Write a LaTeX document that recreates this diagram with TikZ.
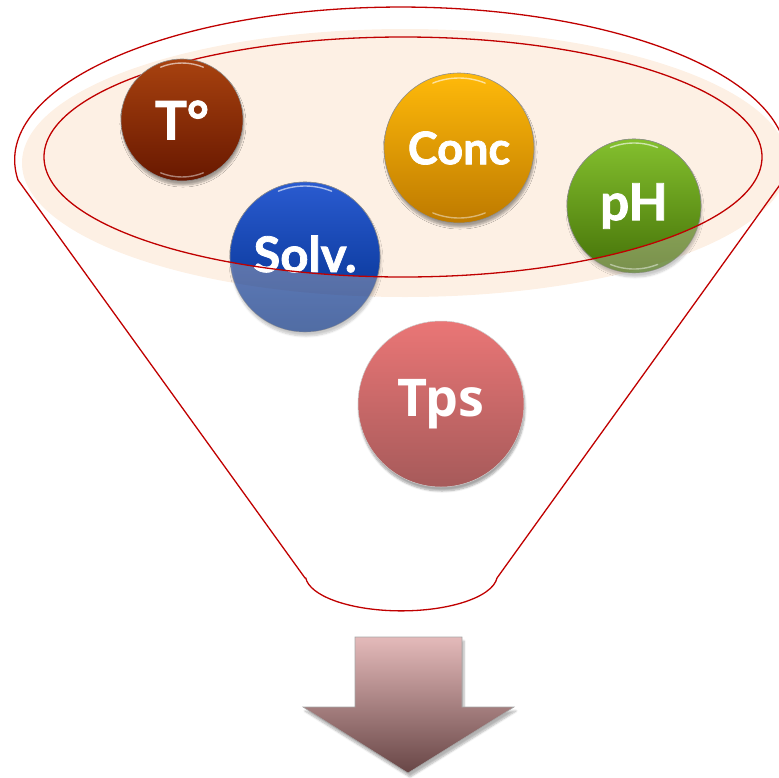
\documentclass[tikz,border=0pt]{standalone}
\usepackage{fontspec}
\setmainfont{Lato}[BoldFeatures={FakeBold=1.6}]
\newfontfamily\tpsfont{Open Sans}
\usetikzlibrary{shadows.blur}
\definecolor{funred}{HTML}{C00000}
\definecolor{peach}{HTML}{FDF0E4}
\tikzset{
  ball/.style={circle, inner sep=0pt, draw=black!45, line width=0.6pt},
  balltext/.style={text=white, font=\bfseries},
  ballshadow/.style={blur shadow={shadow blur steps=6, shadow xshift=1pt, shadow yshift=-4pt, shadow opacity=35}},
  gloss/.style={white, opacity=0.6, line width=1.4pt, line cap=round},
  funnel/.style={draw=funred, line width=1.3pt},
}
\begin{document}
\begin{tikzpicture}[x=1pt,y=-1pt]
\useasboundingbox (0,0) rectangle (779,777);
% peach glow
\fill[peach] (405,163) ellipse [x radius=383, y radius=134];
% outer funnel
\draw[funnel] (305,578) -- (18,180)
  arc[start angle=172.5, end angle=367.5, x radius=386, y radius=153]
  -- (497,578)
  arc[start angle=5, end angle=175, x radius=96, y radius=36] -- cycle;
% Conc
\node[ball, ballshadow, minimum size=150pt, top color={rgb,255:red,255;green,186;blue,10}, bottom color={rgb,255:red,190;green,122;blue,0}] (conc) at (459,148) {};
\draw[gloss] (459,148) ++(248:70) arc[start angle=248, end angle=292, radius=70];
\draw[gloss, opacity=0.45] (459,148) ++(112:70) arc[start angle=112, end angle=68, radius=70];
\node[balltext, font=\bfseries\fontsize{45}{45}\selectfont] at (conc) {Conc};
% Solv faded + vivid
\node[ball, ballshadow, minimum size=150pt, opacity=0.6, top color={rgb,255:red,42;green,91;blue,208}, bottom color={rgb,255:red,0;green,46;blue,138}] (solvf) at (305,257) {};
\begin{scope}
\clip (403,157) ellipse [x radius=359, y radius=120];
\node[ball, minimum size=150pt, top color={rgb,255:red,42;green,91;blue,208}, bottom color={rgb,255:red,0;green,46;blue,138}] (solv) at (305,257) {};
\draw[gloss] (305,257) ++(248:71) arc[start angle=248, end angle=292, radius=71];
\end{scope}
% pH faded + vivid
\node[ball, ballshadow, minimum size=134pt, opacity=0.6, top color={rgb,255:red,132;green,192;blue,46}, bottom color={rgb,255:red,69;green,114;blue,8}] (phf) at (634,206) {};
\begin{scope}
\clip (403,157) ellipse [x radius=359, y radius=120];
\node[ball, minimum size=134pt, top color={rgb,255:red,132;green,192;blue,46}, bottom color={rgb,255:red,69;green,114;blue,8}] (ph) at (634,206) {};
\draw[gloss] (634,206) ++(248:63) arc[start angle=248, end angle=292, radius=63];
\end{scope}
\draw[gloss, opacity=0.45] (634,206) ++(112:63) arc[start angle=112, end angle=68, radius=63];
\node[balltext, font=\bfseries\fontsize{49}{49}\selectfont] at ([yshift=3pt]solv.center) {Solv.};
\node[balltext, font=\bfseries\fontsize{51}{51}\selectfont] at (ph) {pH};
% inner rim
\draw[funnel] (403,157) ellipse [x radius=359, y radius=120];
% T°
\node[ball, ballshadow, minimum size=122pt, top color={rgb,255:red,168;green,66;blue,15}, bottom color={rgb,255:red,104;green,24;blue,0}] (temp) at (182,120) {};
\draw[gloss] (182,120) ++(248:57) arc[start angle=248, end angle=292, radius=57];
\draw[gloss, opacity=0.45] (182,120) ++(112:57) arc[start angle=112, end angle=68, radius=57];
\node[balltext, font=\bfseries\fontsize{53}{53}\selectfont] at (temp) {T°};
% Tps
\node[circle, inner sep=0pt, minimum size=166pt, ballshadow, draw=black!20, line width=0.5pt, top color={rgb,255:red,234;green,118;blue,118}, bottom color={rgb,255:red,166;green,90;blue,90}] (tps) at (441,404) {};
\node[text=white, font=\tpsfont\bfseries\fontsize{52}{52}\selectfont] at (tps) {Tps};
% arrow
\path[blur shadow={shadow blur steps=6, shadow xshift=2pt, shadow yshift=-4pt, shadow opacity=30}, draw=black!35, line width=0.6pt, top color={rgb,255:red,228;green,186;blue,186}, bottom color={rgb,255:red,104;green,70;blue,70}]
  (355,637) -- (462,637) -- (462,707) -- (514,707) -- (408,773) -- (303,707) -- (355,707) -- cycle;
\end{tikzpicture}
\end{document}
